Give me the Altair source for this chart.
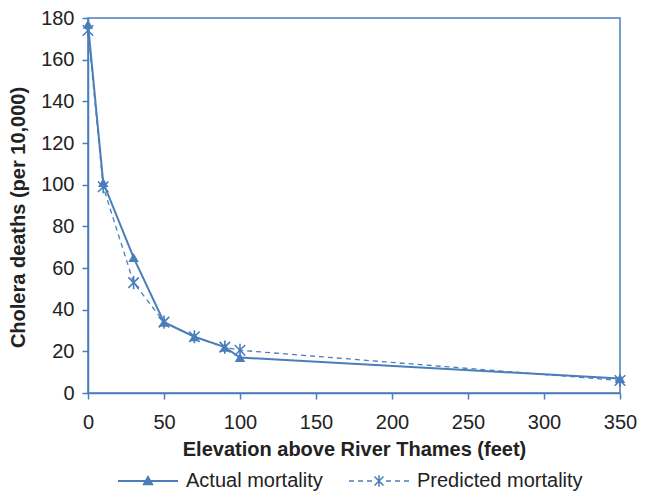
import altair as alt
import pandas as pd

BLUE = "#4a7ebb"
FONT = "Liberation Sans"

elevation = [0, 10, 30, 50, 70, 90, 100, 350]
actual = [177, 101, 65, 34, 27, 22, 17, 7]
predicted = [174, 99, 53, 34, 27, 22, 20.5, 6]
series_names = ["Actual mortality", "Predicted mortality"]
y_ticks = [0, 20, 40, 60, 80, 100, 120, 140, 160, 180]
x_ticks = [0, 50, 100, 150, 200, 250, 300, 350]

df = pd.DataFrame({"elev": elevation, "actual": actual, "predicted": predicted})

STAR = "M-1,-1L1,1M-1,1L1,-1M0,-1.25L0,1.25"


def hbar(x0, x1, h):
    return f"M{x0},{-h}L{x1},{-h}L{x1},{h}L{x0},{h}Z"


LEG_ACTUAL = hbar(-6, 6, 0.2) + "M0,-1.2L1.15,0.85L-1.15,0.85Z"
LEG_PRED = (
    "".join(hbar(a, b, 0.13) for a, b in
            [(-6, -5), (-4.2, -3.2), (-2.4, -1.4), (1.4, 2.4), (3.2, 4.2), (5, 6)])
    + "M-0.794,-1.006L1.006,0.794L0.794,1.006L-1.006,-0.794Z"
    + "M-1.006,0.794L0.794,-1.006L1.006,-0.794L-0.794,1.006Z"
    + "M-0.15,-1.15L0.15,-1.15L0.15,1.15L-0.15,1.15Z"
)

x = alt.X("elev:Q", title="Elevation above River Thames (feet)",
          scale=alt.Scale(domain=[0, 350], nice=False),
          axis=alt.Axis(values=x_ticks, labelFlush=False))
y_axis = alt.Axis(values=y_ticks, title="Cholera deaths (per 10,000)", titleY=199)
y_scale = alt.Scale(domain=[0, 180], nice=False)

base = alt.Chart(df)

pred_line = base.mark_line(color=BLUE, strokeWidth=1.3, strokeDash=[5, 4]).encode(
    x=x, y=alt.Y("predicted:Q", scale=y_scale, axis=y_axis))
pred_pts = base.mark_point(shape=STAR, filled=False, color=BLUE, strokeWidth=1.6,
                           size=110, opacity=1).encode(
    x=x, y=alt.Y("predicted:Q", scale=y_scale, axis=y_axis))
act_line = base.mark_line(color=BLUE, strokeWidth=2).encode(
    x=x, y=alt.Y("actual:Q", scale=y_scale, axis=y_axis))
act_pts = base.mark_point(shape="triangle-up", filled=True, color=BLUE, size=110,
                          opacity=1).encode(
    x=x, y=alt.Y("actual:Q", scale=y_scale, axis=y_axis))

legend_df = pd.DataFrame({"series": series_names})
legend_layer = alt.Chart(legend_df).transform_filter("false").mark_point(
    filled=True, color=BLUE, size=100, opacity=1
).encode(
    shape=alt.Shape("series:N",
                    scale=alt.Scale(domain=series_names, range=[LEG_ACTUAL, LEG_PRED]),
                    legend=alt.Legend(title=None, orient="none", direction="horizontal",
                                      legendX=50, legendY=453, padding=0,
                                      symbolSize=100, labelOffset=28, columnPadding=23,
                                      symbolFillColor=BLUE, symbolOpacity=1,
                                      labelFont=FONT, labelFontSize=20, labelColor="#222",
                                      labelLimit=400))
)

chart = alt.layer(pred_line, pred_pts, act_line, act_pts, legend_layer).properties(
    width=532, height=375,
    autosize=alt.AutoSizeParams(type="none"),
    padding={"left": 80, "top": 10, "right": 17, "bottom": 98},
).configure_view(stroke=BLUE, strokeWidth=1.5).configure_axis(
    grid=False, domainColor=BLUE, domainWidth=1.5, tickColor=BLUE, tickWidth=1.5,
    tickSize=6, labelFont=FONT, labelFontSize=20, labelColor="#222",
    titleFont=FONT, titleFontSize=20, titleFontWeight="bold", titleColor="#222",
).configure_axisY(labelPadding=8, titlePadding=12).configure_axisX(
    labelPadding=13, titlePadding=7)

chart.save("out.html", embed_options={"renderer": "svg", "actions": False})
